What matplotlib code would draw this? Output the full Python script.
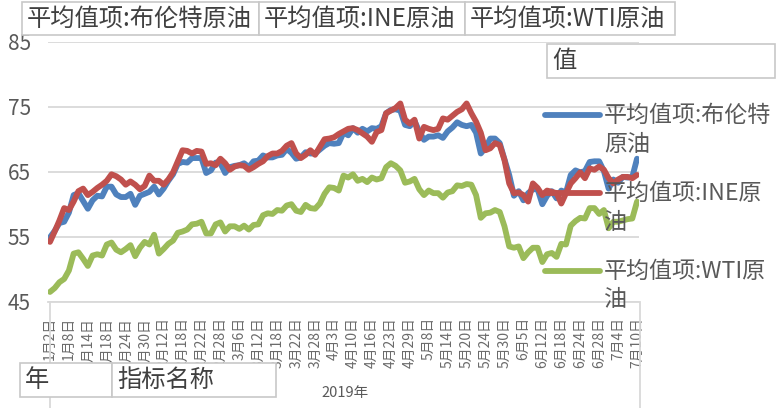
import numpy as np
import pandas as pd
import matplotlib
matplotlib.use('Agg')
import matplotlib.pyplot as plt
from matplotlib.lines import Line2D
from matplotlib.patches import Rectangle

plt.rcParams['font.family'] = ['Noto Sans CJK SC', 'DejaVu Sans']

# trading days shown on the category axis (Jan 2 .. Jul 10, 2019)
holidays = ['2019-01-01', '2019-02-04', '2019-02-05', '2019-02-06', '2019-02-07',
            '2019-02-08', '2019-04-05', '2019-04-19', '2019-05-01', '2019-05-02',
            '2019-05-03', '2019-06-07']
dates = pd.bdate_range('2019-01-02', '2019-07-10', freq='C', holidays=holidays)
date_labels = [f'{d.month}月{d.day}日' for d in dates]

brent = [54.9, 55.9, 57.1, 57.3, 58.7, 61.4, 61.7, 60.5, 59.3, 60.6,
         61.3, 61.2, 62.7, 62.7, 61.5, 61.1, 61.1, 61.6, 59.9, 61.3,
         61.6, 61.9, 62.7, 61.5, 62.4, 63.6, 64.6, 66.2, 66.5, 66.4,
         67.1, 67.1, 67.1, 64.8, 65.2, 66.4, 66.3, 64.8, 65.7, 65.9,
         66.0, 66.3, 65.7, 66.6, 66.7, 67.5, 67.2, 67.2, 67.5, 67.6,
         68.5, 67.9, 67.0, 67.2, 68.0, 67.8, 67.8, 68.4, 69.0, 69.4,
         69.3, 69.4, 71.0, 70.6, 71.7, 71.0, 71.6, 71.2, 71.7, 71.6,
         72.0, 74.0, 74.5, 74.6, 74.4, 72.2, 72.0, 72.8, 71.2, 69.9,
         70.4, 70.4, 70.6, 70.2, 71.2, 71.8, 72.6, 72.2, 72.0, 72.2,
         71.0, 67.8, 68.7, 70.1, 70.1, 69.4, 66.9, 64.5, 61.3, 62.0,
         60.6, 61.7, 62.3, 62.3, 60.0, 61.3, 62.0, 60.9, 62.1, 61.8,
         64.5, 65.2, 64.9, 65.1, 66.5, 66.6, 66.6, 65.1, 62.4, 63.8,
         63.3, 64.2, 64.1, 64.2, 67.0]

ine = [54.2, 55.8, 57.5, 59.4, 59.1, 60.4, 62.0, 62.4, 61.4, 61.9,
       62.5, 63.0, 63.6, 64.6, 64.3, 63.8, 63.0, 63.5, 63.0, 62.3,
       62.8, 64.4, 63.6, 63.6, 63.0, 63.8, 64.9, 66.6, 68.3, 68.2,
       67.8, 68.2, 68.1, 66.2, 66.3, 66.0, 67.0, 66.3, 65.3, 65.8,
       66.0, 65.9, 65.3, 65.7, 66.2, 66.6, 67.4, 67.8, 67.8, 68.2,
       69.0, 69.4, 67.8, 67.1, 67.6, 68.3, 67.6, 68.8, 70.0, 70.1,
       70.3, 70.8, 71.2, 71.6, 71.7, 71.4, 70.9, 70.4, 69.6, 71.1,
       71.4, 74.0, 74.4, 74.8, 75.5, 73.0, 72.4, 73.0, 70.1, 71.9,
       71.6, 71.4, 71.6, 73.2, 73.0, 73.6, 74.2, 74.6, 75.5, 74.0,
       72.7, 71.0, 68.3, 68.6, 69.4, 69.1, 66.8, 63.2, 61.7, 61.8,
       61.4, 60.4, 63.2, 62.5, 61.4, 62.1, 61.9, 61.7, 60.1, 61.7,
       63.2, 64.0, 64.9, 64.0, 65.5, 65.3, 65.8, 65.3, 64.0, 63.2,
       63.8, 64.2, 64.2, 64.0, 64.5]

wti = [46.5, 47.1, 48.0, 48.5, 49.8, 52.4, 52.6, 51.6, 50.5, 52.1,
       52.3, 52.1, 53.8, 54.1, 53.0, 52.6, 53.1, 53.7, 52.0, 53.3,
       54.2, 53.8, 55.3, 52.4, 53.1, 53.9, 54.4, 55.6, 55.8, 56.1,
       56.9, 57.0, 57.3, 55.5, 55.5, 56.9, 57.2, 55.8, 56.6, 56.6,
       56.2, 56.7, 56.1, 56.8, 56.9, 58.3, 58.6, 58.5, 59.1, 59.0,
       59.8, 60.0, 59.0, 58.8, 59.9, 59.4, 59.3, 60.1, 61.6, 62.6,
       62.5, 62.1, 64.4, 64.1, 64.6, 63.6, 63.9, 63.4, 64.1, 63.8,
       64.0, 65.7, 66.3, 65.9, 65.2, 63.3, 63.5, 63.9, 62.3, 61.4,
       62.1, 61.7, 61.7, 61.0, 61.8, 62.0, 62.9, 62.8, 63.1, 63.0,
       61.4, 57.9, 58.6, 58.7, 59.1, 58.8, 56.6, 53.5, 53.3, 53.5,
       51.7, 52.6, 53.3, 53.3, 51.1, 52.3, 52.5, 51.9, 53.9, 53.8,
       56.7, 57.4, 57.9, 57.8, 59.4, 59.4, 58.5, 59.1, 56.3, 57.3,
       57.3, 57.5, 57.7, 57.8, 60.4]

series_names = ['平均值项:布伦特原油', '平均值项:INE原油', '平均值项:WTI原油']
colors = ['#4F81BD', '#C0504D', '#9BBB59']

W, H = 779, 408
fig = plt.figure(figsize=(W / 100, H / 100), dpi=100)


def px(x, y):
    return x / W, 1 - y / H


ax = fig.add_axes([47.6 / W, (H - 301.7) / H, 591.8 / W, 260 / H])
x = np.arange(len(dates))
for vals, c in zip([brent, ine, wti], colors):
    ax.plot(x, vals, color=c, lw=4.2, solid_joinstyle='round', solid_capstyle='round')

ax.set_xlim(-0.5, len(dates) - 0.5)
ax.set_ylim(45, 85)
ax.set_yticks([45, 55, 65, 75, 85])
ax.set_axisbelow(True)
ax.yaxis.grid(True, color='#D9D9D9', lw=1.3)
for s in ['top', 'left', 'right']:
    ax.spines[s].set_visible(False)
ax.spines['bottom'].set_color('#D9D9D9')
ax.spines['bottom'].set_linewidth(1.3)
ax.tick_params(axis='y', length=0, pad=12, labelsize=15, labelcolor='#595959')
ax.set_xticks(x[::4])
ax.set_xticklabels(date_labels[::4], rotation=90, fontsize=10, color='#6A6A6A')
ax.tick_params(axis='x', length=0, pad=11)

# category axis frame
for xp in [50, 640]:
    fig.add_artist(Line2D([xp / W, xp / W], [px(0, 302)[1], 0], color='#D9D9D9', lw=1.3))
fig.text(*px(345, 393), '2019年', ha='center', va='center', fontsize=10.5, color='#595959')


def button(x0, y0, x1, y1, label):
    fig.add_artist(Rectangle(px(x0, y1), (x1 - x0) / W, (y1 - y0) / H, transform=fig.transFigure,
                             facecolor='white', edgecolor='#C8C8C8', lw=1.2, zorder=5))
    fig.text(*px(x0 + 5, (y0 + y1) / 2), label, ha='left', va='center',
             fontsize=17.5, color='#404040', zorder=6)


button(22, 2, 259, 35, series_names[0])
button(259, 2, 465, 35, series_names[1])
button(465, 2, 675, 35, series_names[2])
button(547, 44, 775, 78, '值')
button(20, 363, 112, 397, '年')
button(112, 363, 276, 397, '指标名称')

# legend
legend_rows = [('平均值项:布伦特', '原油', 115, 144),
               ('平均值项:INE原', '油', 193, 223),
               ('平均值项:WTI原', '油', 271, 299)]
for (l1, l2, y1, y2), c in zip(legend_rows, colors):
    fig.add_artist(Line2D([545 / W, 600 / W], [px(0, y1)[1]] * 2, color=c, lw=4.2,
                          solid_capstyle='round', zorder=6))
    fig.text(*px(604, y1), l1, ha='left', va='center', fontsize=16.6, color='#595959', zorder=7)
    fig.text(*px(604, y2), l2, ha='left', va='center', fontsize=16.6, color='#595959', zorder=7)

fig.savefig('out.png', dpi=100)
